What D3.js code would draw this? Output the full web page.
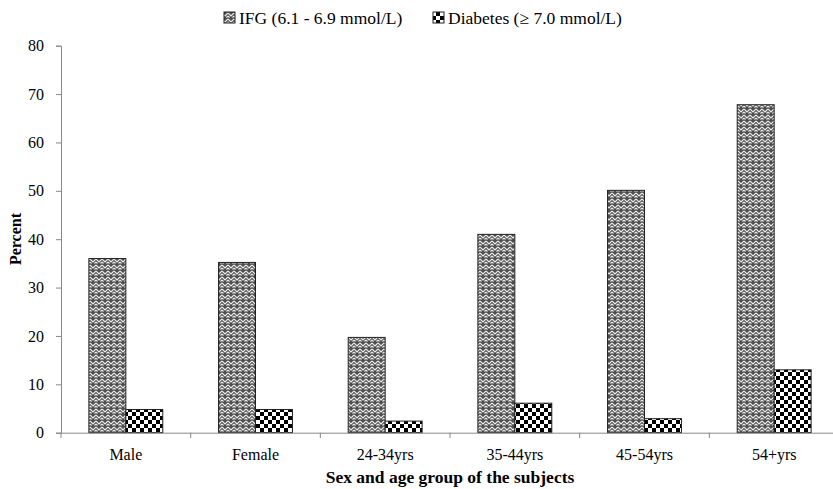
<!DOCTYPE html>
<html><head><meta charset="utf-8">
<script src="https://cdn.jsdelivr.net/npm/d3@7"></script>
<style>body{margin:0;background:#fff}svg{display:block}text{font-family:"Liberation Serif","Times New Roman",serif}</style>
</head><body><svg id="c" width="833" height="489"></svg>
<script>
const categories = ["Male","Female","24-34yrs","35-44yrs","45-54yrs","54+yrs"];
const seriesNames = ["IFG (6.1 - 6.9 mmol/L)","Diabetes (\u2265 7.0 mmol/L)"];
const ifg = [36.0, 35.2, 19.7, 41.0, 50.1, 67.8];
const diabetes = [4.8, 4.8, 2.4, 6.1, 2.9, 13.0];
const yTicks = [0,10,20,30,40,50,60,70,80];

const svg = d3.select("#c");
const defs = svg.append("defs");
// zigzag pattern
const pz = defs.append("pattern").attr("id","zig").attr("patternUnits","userSpaceOnUse").attr("width",6).attr("height",6);
pz.append("rect").attr("width",6).attr("height",6).attr("fill","#4e4e4e");
pz.append("path").attr("d","M0,1 L3,4 L6,1 M0,4 L1.5,5.5 M4.5,5.5 L6,4").attr("stroke","#ececec").attr("stroke-width",1.2).attr("fill","none");
// checker pattern
const pc = defs.append("pattern").attr("id","chk").attr("patternUnits","userSpaceOnUse").attr("width",8).attr("height",8);
pc.append("rect").attr("width",8).attr("height",8).attr("fill","#fff");
pc.append("rect").attr("width",4).attr("height",4).attr("fill","#000");
pc.append("rect").attr("x",4).attr("y",4).attr("width",4).attr("height",4).attr("fill","#000");

const x0 = d3.scaleBand().domain(categories).range([61,839]);
const y = d3.scaleLinear().domain([0,80]).range([432.7,45.7]);
const groupW = x0.bandwidth()*0.57;
const x1 = d3.scaleBand().domain([0,1]).range([0,groupW]);

// y axis
const ya = svg.append("g").attr("transform","translate(61,0)")
  .call(d3.axisLeft(y).tickValues(yTicks).tickSize(5).tickPadding(12));
ya.select(".domain").attr("stroke","#888");
ya.selectAll(".tick line").attr("stroke","#888");
ya.selectAll("text").attr("font-size",16).attr("fill","#000").attr("font-family","'Liberation Serif',serif");

// bars
const data = categories.map((c,i)=>({c, v:[ifg[i], diabetes[i]]}));
const g = svg.append("g");
const fills = ["url(#zig)","url(#chk)"];
data.forEach(d=>{
  const gx = x0(d.c) + (x0.bandwidth()-groupW)/2;
  d.v.forEach((v,k)=>{
    g.append("rect").attr("x",gx+x1(k)).attr("y",y(v)).attr("width",x1.bandwidth()).attr("height",y(0)-y(v))
     .attr("fill",fills[k]).attr("stroke","#222").attr("stroke-width",1);
  });
});

// x axis
const xa = svg.append("g").attr("transform","translate(0,432.7)")
  .call(d3.axisBottom(x0).tickSize(0));
xa.select(".domain").attr("stroke","#888");
xa.selectAll("text").attr("font-size",16).attr("fill","#000").attr("font-family","'Liberation Serif',serif")
  .attr("y",27.5).attr("dy","0");
// boundary ticks
const bounds = categories.map(c=>x0(c));
svg.append("g").selectAll("line").data(bounds).join("line")
  .attr("x1",d=>d).attr("x2",d=>d).attr("y1",432.7).attr("y2",438).attr("stroke","#888");

// axis titles
svg.append("text").attr("x",450).attr("y",483).attr("text-anchor","middle").attr("font-size",17.5).attr("font-weight","bold").text("Sex and age group of the subjects");
svg.append("text").attr("transform","translate(21,239) rotate(-90)").attr("text-anchor","middle").attr("font-size",16).attr("font-weight","bold").text("Percent");

// legend
const leg = svg.append("g");
const legX = [224, 433];
seriesNames.forEach((n,k)=>{
  leg.append("rect").attr("x",legX[k]).attr("y",12).attr("width",11).attr("height",11).attr("fill",fills[k]).attr("stroke","#222");
  leg.append("text").attr("x",legX[k]+15).attr("y",24).attr("font-size",17.5).text(n);
});
</script></body></html>
